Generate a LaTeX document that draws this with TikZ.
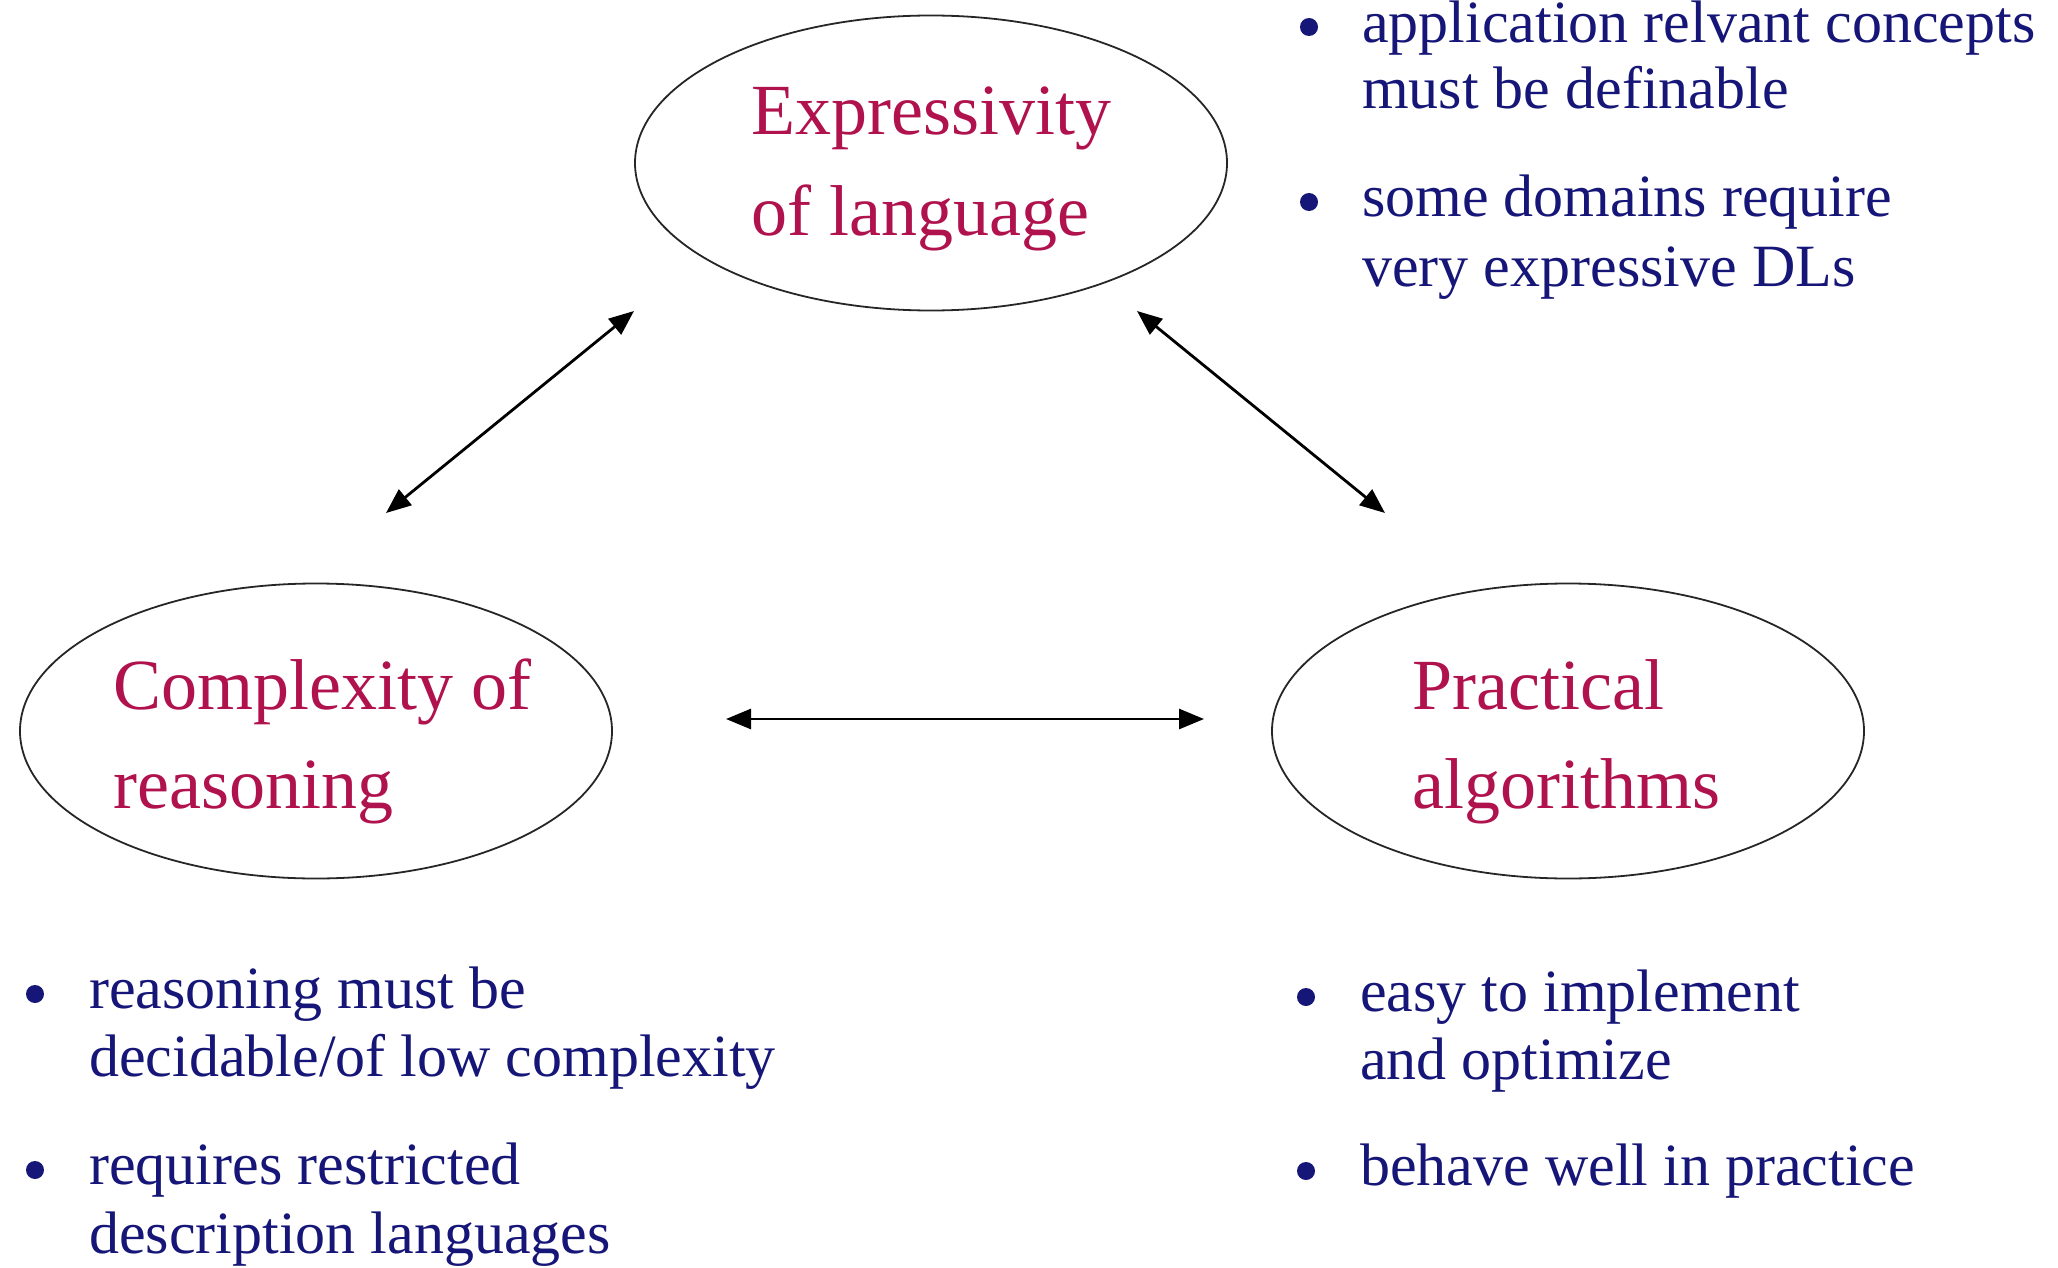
\documentclass[tikz,border=0pt]{standalone}
\usepackage{fontspec}
\setmainfont{Liberation Serif}
\usetikzlibrary{shapes.geometric,arrows.meta}
\definecolor{headred}{RGB}{176,18,78}
\definecolor{navy}{RGB}{22,22,120}
\begin{document}
\begin{tikzpicture}[x=1pt,y=-1pt,
  bubble/.style={draw=black!85,line width=1.8pt,shape=ellipse,minimum width=592pt,minimum height=295pt,inner sep=0pt},
  head/.style={anchor=base west,inner sep=0pt,text=headred,font=\fontsize{72}{86}\selectfont},
  item/.style={anchor=base west,inner sep=0pt,text=navy,font=\fontsize{60}{72}\selectfont},
  dot/.style={shape=circle,fill=navy,draw=none,minimum size=18pt,inner sep=0pt},
  link/.style={line width=2.8pt,{Triangle[length=25pt,width=20pt]}-{Triangle[length=25pt,width=20pt]}}]
\useasboundingbox (0,0) rectangle (2058,1268);
% ellipses
\node[bubble] (E) at (931,163) {};
\node[bubble] (C) at (316,731) {};
\node[bubble] (P) at (1568,731) {};
% headings
\node[head] (e1) at (751,135) {Expressivity};
\node[head] (e2) at (751,236) {of language};
\node[head] (c1) at (113,709) {Complexity of};
\node[head] (c2) at (113,808) {reasoning};
\node[head] (p1) at (1412,709) {Practical};
\node[head] (p2) at (1412,808) {algorithms};
% top right bullets
\node[dot] (b1) at (1309,27) {};
\node[item] (r1) at (1362,43) {application relvant concepts};
\node[item] (r2) at (1362,109) {must be definable};
\node[dot] (b2) at (1309,202) {};
\node[item] (r3) at (1362,217) {some domains require};
\node[item] (r4) at (1362,286) {very expressive DLs};
% bottom left bullets
\node[dot] (b3) at (35,994) {};
\node[item] (l1) at (89,1008) {reasoning must be};
\node[item] (l2) at (89,1076) {decidable/of low complexity};
\node[dot] (b4) at (35,1170) {};
\node[item] (l3) at (89,1184) {requires restricted};
\node[item] (l4) at (89,1253) {description languages};
% bottom right bullets
\node[dot] (b5) at (1306,997) {};
\node[item] (q1) at (1360,1011) {easy to implement};
\node[item] (q2) at (1360,1079) {and optimize};
\node[dot] (b6) at (1306,1171) {};
\node[item] (q3) at (1360,1185) {behave well in practice};
% arrow ends
\coordinate (a1s) at (386,513);
\coordinate (a1e) at (634,311);
\coordinate (a2s) at (1137,311);
\coordinate (a2e) at (1385,513);
\coordinate (a3s) at (726,719);
\coordinate (a3e) at (1204,719);
\draw[link] (a1s) -- (a1e);
\draw[link] (a2s) -- (a2e);
\draw[link] (a3s) -- (a3e);
\end{tikzpicture}
\end{document}
